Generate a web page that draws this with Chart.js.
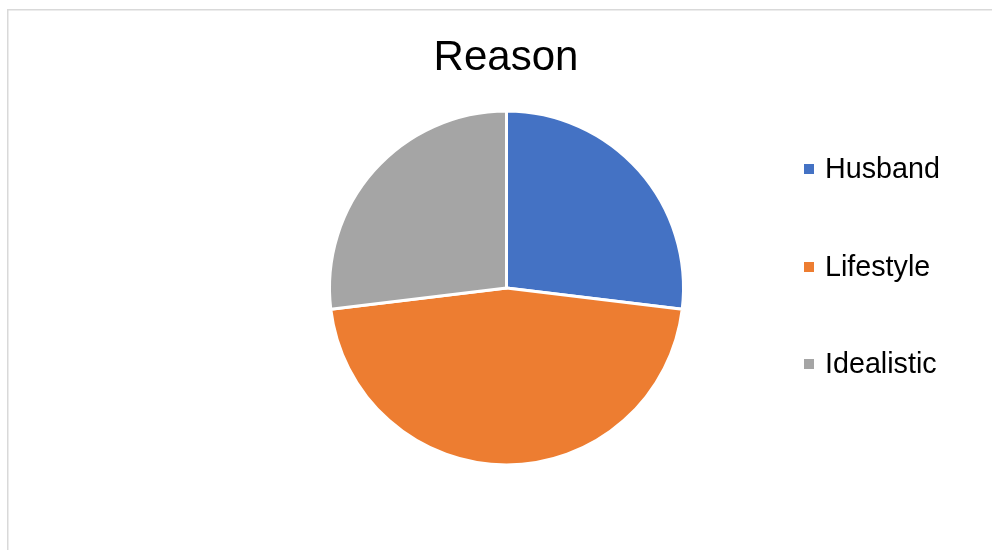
<!DOCTYPE html>
<html lang="en">
<head>
  <meta charset="UTF-8">
  <title>Reason</title>
  <script src="https://cdn.jsdelivr.net/npm/chart.js"></script>
  <style>
    html, body {
      margin: 0;
      padding: 0;
      background: #ffffff;
    }
    #wrap {
      position: relative;
      width: 992px;
      height: 550px;
    }
  </style>
</head>
<body>
  <div id="wrap">
    <canvas id="myChart" width="992" height="550"></canvas>
  </div>

  <script>
    // Chart data
    var chartTitle = 'Reason';
    var categories = ['Husband', 'Lifestyle', 'Idealistic'];
    var values = [7, 12, 7];
    var colors = ['#4472C4', '#ED7D31', '#A5A5A5'];

    // Draws the frame, title and legend the way the original has them
    var decorations = {
      id: 'decorations',
      beforeDraw: function (chart) {
        var c = chart.ctx;
        c.save();
        c.strokeStyle = '#d9d9d9';
        c.lineWidth = 1.5;
        c.beginPath();
        c.moveTo(7.75, 550);
        c.lineTo(7.75, 9.75);
        c.lineTo(992, 9.75);
        c.stroke();
        c.restore();
      },
      afterDraw: function (chart) {
        var c = chart.ctx;
        c.save();
        c.fillStyle = '#000000';
        c.font = '42px "Liberation Sans", Arial, sans-serif';
        c.textAlign = 'center';
        c.textBaseline = 'alphabetic';
        c.fillText(chartTitle, 506, 70);

        var labels = chart.data.labels;
        var bg = chart.data.datasets[0].backgroundColor;
        var rows = [169, 267, 364];
        c.font = '28.7px "Liberation Sans", Arial, sans-serif';
        c.textAlign = 'left';
        c.textBaseline = 'middle';
        for (var i = 0; i < labels.length; i++) {
          c.fillStyle = bg[i];
          c.fillRect(804, rows[i] - 5, 10, 10);
          c.fillStyle = '#000000';
          c.fillText(labels[i], 825, rows[i] + 1);
        }
        c.restore();
      }
    };

    var ctx = document.getElementById('myChart').getContext('2d');

    var myChart = new Chart(ctx, {
      type: 'pie',
      data: {
        labels: categories,
        datasets: [{
          data: values,
          backgroundColor: colors,
          borderColor: '#ffffff',
          borderWidth: 3,
          hoverOffset: 0
        }]
      },
      options: {
        responsive: false,
        animation: false,
        radius: 177,
        layout: {
          padding: { left: 330, right: 309, top: 112, bottom: 86 }
        },
        plugins: {
          legend: { display: false },
          title: { display: false },
          tooltip: { enabled: false }
        }
      },
      plugins: [decorations]
    });
  </script>
</body>
</html>
